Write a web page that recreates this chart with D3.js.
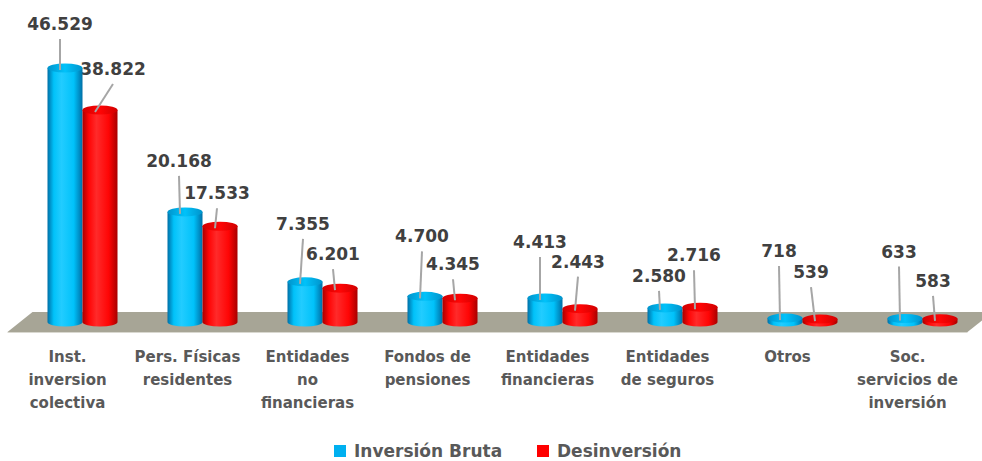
<!DOCTYPE html>
<html>
<head>
<meta charset="utf-8">
<script src="https://cdn.jsdelivr.net/npm/d3@7"></script>
<style>
  body { margin: 0; background: #fff; }
  svg text { font-family: "DejaVu Sans", sans-serif; font-weight: bold; }
</style>
</head>
<body>
<svg id="chart" width="982" height="461"></svg>
<script>
// categories, each one split in the lines shown under the floor
const categories = [
  ["Inst.", "inversion", "colectiva"],
  ["Pers. Físicas", "residentes"],
  ["Entidades", "no", "financieras"],
  ["Fondos de", "pensiones"],
  ["Entidades", "financieras"],
  ["Entidades", "de seguros"],
  ["Otros"],
  ["Soc.", "servicios de", "inversión"]
]
const seriesNames = ["Inversión Bruta", "Desinversión"]
const inversionBruta = [46529, 20168, 7355, 4700, 4413, 2580, 718, 633]
const desinversion = [38822, 17533, 6201, 4345, 2443, 2716, 539, 583]

// where each data label sits, relative to the top of its bar (px)
const labelNudgeBlue = [[-5, -38], [-6, -45], [-2, -52], [-3, -54], [-5, -50], [-6, -26], [-6, -61], [-6, -61]]
const labelNudgeRed = [[13, -35], [-3, -27], [-7, -28], [-7, -28], [-2, -41], [-6, -46], [-9, -41], [-7, -32]]

const colors = {
  blue: { edge: "#006fa6", mid: "#00c2fa", light: "#22ccff", top: "#0094cc" },
  red: { edge: "#a80000", mid: "#ff0505", light: "#ff2a2a", top: "#d00000" }
}

const svg = d3.select("#chart")
const fmt = d3.formatLocale({ decimal: ",", thousands: ".", grouping: [3], currency: ["", "€"] }).format(",d")

const baseY = 322
const x0 = d3.scaleBand().domain(d3.range(categories.length)).range([22.5, 982.5]).padding(0)
const x1 = d3.scaleBand().domain([0, 1]).range([x0.bandwidth() / 2 - 35, x0.bandwidth() / 2 + 35])
const y = d3.scaleLinear().domain([0, 50000]).range([baseY, 49])

const barW = x1.bandwidth()
const ry = 4.5

// gradients for the cylinders
const defs = svg.append("defs")
Object.entries(colors).forEach(([k, c]) => {
  const g = defs.append("linearGradient").attr("id", "grad-" + k).attr("x1", 0).attr("x2", 1).attr("y1", 0).attr("y2", 0)
  g.append("stop").attr("offset", "0%").attr("stop-color", c.edge)
  g.append("stop").attr("offset", "18%").attr("stop-color", c.mid)
  g.append("stop").attr("offset", "40%").attr("stop-color", c.light)
  g.append("stop").attr("offset", "75%").attr("stop-color", c.mid)
  g.append("stop").attr("offset", "100%").attr("stop-color", c.edge)
  const t = defs.append("linearGradient").attr("id", "top-" + k).attr("x1", 0).attr("x2", 1).attr("y1", 0).attr("y2", 0)
  t.append("stop").attr("offset", "0%").attr("stop-color", c.top)
  t.append("stop").attr("offset", "50%").attr("stop-color", c.mid)
  t.append("stop").attr("offset", "100%").attr("stop-color", c.top)
})

// floor
const fl = x0.range()
svg.append("path")
  .attr("d", `M${fl[0] - 15},${baseY + 10} L${fl[1] - 15},${baseY + 10} L${fl[1] + 10},${baseY - 10} L${fl[0] + 10},${baseY - 10} Z`)
  .attr("fill", "#a7a596")
svg.append("line").attr("x1", fl[0] - 15).attr("x2", fl[1] - 15).attr("y1", baseY + 10.5).attr("y2", baseY + 10.5)
  .attr("stroke", "#d9d8d0").attr("stroke-width", 1)

const bars = []
categories.forEach((c, i) => {
  bars.push({ i, s: 0, v: inversionBruta[i], key: "blue", nudge: labelNudgeBlue[i] })
  bars.push({ i, s: 1, v: desinversion[i], key: "red", nudge: labelNudgeRed[i] })
})
bars.forEach(b => {
  b.cx = x0(b.i) + x1(b.s) + barW / 2
  b.top = y(b.v)
  b.lx = b.cx + b.nudge[0]
  b.ly = b.top + b.nudge[1]
})

// data labels (drawn under the bars, as in the original)
svg.append("g").selectAll("text").data(bars).join("text")
  .attr("x", d => d.lx).attr("y", d => d.ly)
  .attr("text-anchor", "middle")
  .attr("font-size", 17)
  .attr("fill", "#404040")
  .text(d => fmt(d.v))

// cylinders
const cyl = svg.append("g").selectAll("g").data(bars).join("g")
cyl.append("path")
  .attr("d", d => {
    const l = d.cx - barW / 2, r = d.cx + barW / 2
    return `M${l},${d.top} L${l},${baseY} A${barW / 2},${ry} 0 0 0 ${r},${baseY} L${r},${d.top} Z`
  })
  .attr("fill", d => `url(#grad-${d.key})`)
cyl.append("ellipse")
  .attr("cx", d => d.cx).attr("cy", d => d.top)
  .attr("rx", barW / 2).attr("ry", ry)
  .attr("fill", d => `url(#top-${d.key})`)

// leader lines
svg.append("g").selectAll("line").data(bars).join("line")
  .attr("x1", d => d.lx).attr("y1", d => d.ly + 9)
  .attr("x2", d => d.cx - 5).attr("y2", d => d.top + 2)
  .attr("stroke", "#a6a6a6").attr("stroke-width", 2)

// category axis
const axis = svg.append("g").attr("transform", `translate(-15,${baseY + 18})`)
  .call(d3.axisBottom(x0).tickSize(0).tickFormat(""))
axis.select(".domain").remove()
axis.selectAll(".tick text").remove()
axis.selectAll(".tick").append("text")
  .attr("fill", "#595959")
  .attr("font-size", 15)
  .attr("text-anchor", "middle")
  .selectAll("tspan").data(i => categories[i]).join("tspan")
  .attr("x", 0)
  .attr("y", (d, k) => 22 + k * 23)
  .text(d => d)

// legend
const legend = svg.append("g").attr("transform", "translate(334,444)")
const legX = [0, 203]
seriesNames.forEach((n, k) => {
  const g = legend.append("g").attr("transform", `translate(${legX[k]},0)`)
  g.append("rect").attr("y", 1).attr("width", 12).attr("height", 12).attr("fill", k ? "#ff0000" : "#00b0f0")
  g.append("text").attr("x", 20).attr("y", 13).attr("font-size", 17).attr("fill", "#595959").text(n)
})
</script>
</body>
</html>
